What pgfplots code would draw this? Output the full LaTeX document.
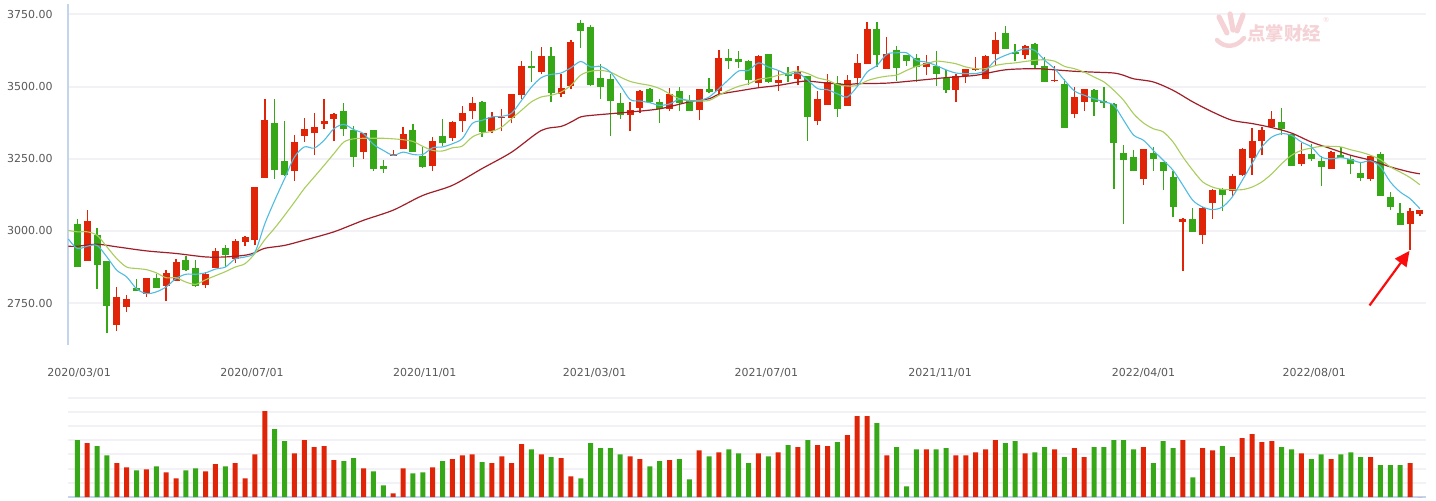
\documentclass[border=0pt]{standalone}
\usepackage{pgfplots}
\pgfplotsset{compat=1.18}
\usepackage{pgfplotstable}
\usepackage{fontspec}
\setmainfont{DejaVu Sans}
\newfontfamily\cjk{Noto Sans CJK SC}
\usetikzlibrary{arrows.meta}
\definecolor{cred}{RGB}{223,36,8}
\definecolor{cgreen}{RGB}{54,168,24}
\definecolor{mablue}{RGB}{80,188,224}
\definecolor{magreen}{RGB}{168,205,92}
\definecolor{madred}{RGB}{160,30,40}
\definecolor{gridgray}{RGB}{242,242,246}
\definecolor{axisblue}{RGB}{196,212,236}
\definecolor{txtgray}{RGB}{88,88,88}
\definecolor{wmpink}{RGB}{245,210,214}
\definecolor{arrowred}{RGB}{250,12,12}

\pgfplotstableread{
i o h l c v
1 2896 3072 2896 3033 3.79
4 2675 2806 2653 2770 2.38
5 2737 2778 2718 2763 2.09
7 2783 2836 2772 2836 1.95
9 2810 2864 2757 2856 1.74
10 2827 2902 2827 2894 1.32
13 2814 2858 2803 2850 1.81
14 2871 2940 2871 2930 2.31
16 2903 2971 2890 2964 2.38
17 2963 2982 2948 2978 1.32
18 2969 3151 2952 3151 3.01
19 3183 3456 3183 3383 6.05
22 3208 3331 3173 3307 3.08
23 3329 3390 3308 3352 4.00
24 3339 3407 3262 3359 3.51
25 3369 3456 3353 3380 3.58
26 3388 3407 3310 3404 2.59
29 3273 3338 3249 3338 2.02
32 3261 3279 3261 3268 0.26
33 3284 3359 3284 3335 2.02
36 3225 3324 3208 3310 2.09
38 3322 3380 3310 3376 2.66
39 3381 3432 3343 3407 2.94
40 3415 3463 3387 3442 3.01
42 3346 3411 3339 3393 2.38
43 3391 3421 3346 3395 2.87
44 3391 3473 3373 3473 2.38
45 3470 3587 3456 3570 3.72
47 3549 3636 3542 3605 3.01
49 3474 3542 3463 3494 2.73
50 3501 3660 3490 3653 1.46
56 3402 3445 3346 3418 2.87
57 3426 3487 3408 3483 2.66
60 3422 3494 3415 3473 2.59
63 3419 3490 3384 3490 3.29
65 3483 3625 3473 3598 3.15
69 3513 3611 3498 3605 3.08
71 3512 3556 3485 3522 3.15
73 3526 3573 3505 3550 3.51
75 3381 3483 3367 3456 3.65
76 3436 3542 3436 3515 3.58
78 3433 3539 3433 3522 4.35
79 3530 3612 3498 3580 5.69
80 3578 3722 3578 3701 5.69
82 3561 3670 3561 3612 2.94
86 3568 3608 3540 3580 3.36
89 3488 3542 3447 3538 2.94
90 3538 3560 3512 3560 2.94
91 3556 3601 3554 3561 3.15
92 3526 3608 3526 3605 3.36
93 3613 3688 3571 3663 4.00
96 3609 3643 3595 3639 3.08
99 3519 3573 3516 3522 3.36
101 3405 3497 3391 3463 3.44
102 3447 3490 3415 3490 2.80
108 3181 3283 3160 3283 3.51
112 3032 3046 2862 3043 4.00
114 2986 3084 2955 3081 3.44
115 3097 3145 3042 3143 3.29
117 3140 3196 3122 3192 2.80
118 3195 3286 3192 3283 4.14
119 3254 3355 3195 3313 4.42
120 3313 3359 3262 3348 3.86
121 3359 3414 3355 3387 3.93
124 3232 3305 3225 3267 3.08
127 3215 3277 3215 3273 2.66
131 3180 3263 3173 3260 2.80
135 3024 3081 2934 3070 2.38
136 3057 3074 3053 3074 0
}\redtab

\pgfplotstableread{
i o h l c v
0 3025 3040 2875 2875 4.00
2 2985 3009 2799 2881 3.58
3 2895 2895 2647 2740 2.94
6 2804 2834 2791 2791 1.88
8 2838 2850 2803 2803 2.16
11 2898 2912 2862 2865 1.88
12 2871 2898 2806 2810 2.02
15 2940 2953 2875 2916 2.16
20 3375 3456 3180 3211 4.78
21 3241 3380 3192 3195 3.93
27 3414 3442 3329 3353 2.52
28 3348 3365 3222 3256 2.73
30 3348 3348 3208 3215 1.81
31 3224 3245 3201 3216 0.82
34 3348 3369 3273 3273 1.67
35 3258 3291 3217 3222 1.74
37 3328 3387 3294 3305 2.52
41 3445 3449 3325 3343 2.45
46 3570 3622 3516 3563 3.36
48 3605 3636 3445 3477 2.80
51 3719 3729 3633 3692 1.32
52 3705 3715 3502 3505 3.79
53 3528 3577 3457 3498 3.44
54 3525 3542 3329 3450 3.44
55 3442 3477 3388 3402 3.01
58 3490 3494 3442 3445 2.16
59 3445 3456 3374 3422 2.52
61 3483 3497 3415 3442 2.66
62 3452 3470 3415 3415 1.25
64 3490 3528 3477 3480 2.87
66 3598 3629 3561 3588 3.36
67 3594 3622 3563 3585 3.08
68 3587 3591 3504 3522 2.38
70 3612 3612 3512 3516 2.87
72 3543 3567 3516 3535 3.65
74 3535 3535 3312 3395 4.00
77 3511 3535 3395 3422 3.86
81 3698 3722 3568 3609 5.20
83 3625 3639 3519 3564 3.51
84 3608 3608 3571 3588 0.75
85 3598 3612 3516 3568 3.36
87 3573 3622 3502 3543 3.36
88 3530 3556 3478 3488 3.44
94 3684 3709 3630 3630 3.79
95 3620 3647 3588 3613 3.93
97 3646 3650 3561 3575 3.15
98 3570 3601 3516 3516 3.51
100 3508 3525 3357 3357 2.80
103 3487 3490 3398 3447 3.51
104 3449 3497 3426 3443 3.51
105 3438 3442 3145 3305 4.00
106 3269 3297 3024 3246 4.00
107 3255 3279 3208 3208 3.36
109 3269 3290 3208 3249 2.38
110 3238 3238 3142 3208 3.93
111 3186 3207 3048 3083 3.44
113 3043 3081 2997 2997 1.39
116 3147 3150 3068 3126 3.58
122 3378 3425 3332 3353 3.51
123 3337 3337 3225 3225 3.36
125 3267 3300 3242 3249 2.66
126 3242 3260 3156 3222 3.01
128 3263 3291 3253 3253 3.01
129 3249 3260 3197 3232 3.15
130 3202 3239 3173 3183 2.80
132 3267 3273 3121 3121 2.24
133 3118 3136 3073 3084 2.24
134 3063 3098 3021 3021 2.24
}\greentab

\begin{document}
\begin{tikzpicture}
\path[use as bounding box] (0,0) rectangle (718pt,250pt);
% price panel
\begin{axis}[
  at={(34pt,77.5pt)}, anchor=south west,
  scale only axis, width=679pt, height=170.5pt,
  xmin=-0.94, xmax=136.62, ymin=2605, ymax=3786,
  axis x line*=bottom, axis y line*=left,
  x axis line style={draw=none},
  y axis line style={draw=axisblue, line width=0.8pt, -},
  major tick length=0pt,
  ymajorgrids, grid style={draw=gridgray, line width=1pt},
  ytick={2750,3000,3250,3500,3750},
  yticklabels={2750.00,3000.00,3250.00,3500.00,3750.00},
  xtick={0.19,17.7,35.2,52.4,69.8,87.4,108.0,125.3},
  xticklabels={2020/03/01,2020/07/01,2020/11/01,2021/03/01,2021/07/01,2021/11/01,2022/04/01,2022/08/01},
  ticklabel style={font=\fontsize{5.5}{6.5}\selectfont, text=txtgray, inner sep=0pt},
  yticklabel style={anchor=east, xshift=-7.5pt},
  xticklabel style={anchor=center, yshift=-14pt},
  clip=true,
]
% wicks
\addplot[draw=none, mark=none, forget plot, error bars/.cd, y dir=plus, y explicit, error mark=none,
  error bar style={draw=cred, line width=0.65pt}]
  table[x=i, y=l, y error plus expr={\thisrow{h}-\thisrow{l}}] {\redtab};
\addplot[draw=none, mark=none, forget plot, error bars/.cd, y dir=plus, y explicit, error mark=none,
  error bar style={draw=cgreen, line width=0.65pt}]
  table[x=i, y=l, y error plus expr={\thisrow{h}-\thisrow{l}}] {\greentab};
% bodies
\addplot[draw=none, mark=none, forget plot, error bars/.cd, y dir=plus, y explicit, error mark=none,
  error bar style={draw=cred, line width=3.5pt}]
  table[x=i, y expr={min(\thisrow{o},\thisrow{c})}, y error plus expr={max(abs(\thisrow{c}-\thisrow{o}),5)}] {\redtab};
\addplot[draw=none, mark=none, forget plot, error bars/.cd, y dir=plus, y explicit, error mark=none,
  error bar style={draw=cgreen, line width=3.5pt}]
  table[x=i, y expr={min(\thisrow{o},\thisrow{c})}, y error plus expr={max(abs(\thisrow{c}-\thisrow{o}),5)}] {\greentab};
% moving averages
\addplot[madred, line width=0.6pt, smooth, mark=none] coordinates {
(-0.9,2947)(0,2947)(2,2954)(4,2945)(7,2931)(10,2922)(13,2910)(15,2910)(17,2916)(18,2925)(19,2940)(21,2950)(23,2968)(26,2997)(29,3037)(32,3072)(35,3123)(38,3158)(41,3216)(44,3273)(47,3348)(49,3362)(50,3377)(51,3395)(52,3400)(54,3406)(56,3412)(59,3423)(62,3447)(64,3458)(65,3473)(67,3485)(69,3496)(71,3504)(73,3516)(74,3519)(76,3512)(78,3507)(79,3510)(82,3512)(85,3521)(88,3531)(91,3539)(94,3558)(97,3562)(99,3558)(101,3553)(103,3550)(105,3547)(106,3539)(107,3527)(109,3516)(111,3487)(113,3447)(115,3412)(117,3383)(119,3372)(121,3358)(123,3339)(125,3308)(127,3285)(129,3262)(131,3245)(133,3222)(135,3204)(136,3198)
};
\addplot[magreen, line width=0.55pt, smooth, mark=none] coordinates {
(-0.9,3002)(0,2997)(1,2997)(2,2985)(3,2945)(4,2904)(5,2875)(6,2870)(7,2866)(8,2855)(9,2838)(10,2838)(11,2823)(12,2815)(13,2831)(14,2845)(15,2859)(16,2875)(17,2887)(18,2922)(19,2970)(20,3010)(21,3054)(22,3100)(23,3147)(24,3187)(25,3227)(26,3268)(27,3308)(28,3319)(29,3321)(30,3321)(31,3321)(32,3319)(33,3316)(34,3310)(35,3293)(36,3279)(37,3277)(38,3288)(39,3294)(40,3325)(41,3339)(42,3345)(43,3360)(44,3389)(45,3418)(46,3447)(47,3464)(48,3470)(49,3481)(50,3504)(51,3540)(52,3553)(53,3556)(54,3550)(55,3533)(56,3518)(57,3510)(58,3504)(59,3493)(60,3475)(61,3458)(62,3450)(63,3450)(64,3452)(65,3470)(66,3487)(67,3501)(68,3510)(69,3525)(70,3530)(71,3539)(72,3547)(73,3554)(74,3545)(75,3530)(76,3522)(77,3507)(78,3502)(79,3504)(80,3520)(81,3530)(82,3536)(83,3540)(84,3556)(85,3570)(86,3579)(87,3588)(88,3585)(89,3579)(90,3568)(91,3562)(92,3562)(93,3573)(94,3579)(95,3582)(96,3587)(97,3591)(98,3593)(99,3588)(100,3570)(101,3562)(102,3550)(103,3533)(104,3516)(105,3487)(106,3452)(107,3406)(108,3374)(109,3354)(110,3343)(111,3308)(112,3256)(113,3210)(114,3170)(115,3152)(116,3144)(117,3143)(118,3143)(119,3152)(120,3170)(121,3198)(122,3233)(123,3262)(124,3279)(125,3287)(126,3293)(127,3293)(128,3291)(129,3281)(130,3273)(131,3262)(132,3247)(133,3222)(134,3204)(135,3185)(136,3160)
};
\addplot[mablue, line width=0.55pt, smooth, mark=none] coordinates {
(-0.9,2972)(0,2939)(1,2947)(2,2950)(3,2910)(4,2864)(5,2841)(6,2800)(7,2783)(8,2789)(9,2806)(10,2835)(11,2850)(12,2850)(13,2855)(14,2868)(15,2875)(16,2903)(17,2910)(18,2927)(19,3025)(20,3106)(21,3181)(22,3256)(23,3291)(24,3287)(25,3314)(26,3354)(27,3369)(28,3351)(29,3337)(30,3300)(31,3279)(32,3262)(33,3273)(34,3265)(35,3265)(36,3288)(37,3291)(38,3302)(39,3320)(40,3372)(41,3383)(42,3395)(43,3397)(44,3408)(45,3452)(46,3498)(47,3531)(48,3542)(49,3547)(50,3565)(51,3587)(52,3568)(53,3570)(54,3550)(55,3504)(56,3455)(57,3450)(58,3444)(59,3435)(60,3440)(61,3456)(62,3452)(63,3452)(64,3464)(65,3493)(66,3525)(67,3554)(68,3556)(69,3582)(70,3568)(71,3556)(72,3542)(73,3547)(74,3522)(75,3493)(76,3489)(77,3475)(78,3464)(79,3500)(80,3550)(81,3573)(82,3612)(83,3617)(84,3617)(85,3591)(86,3585)(87,3573)(88,3558)(89,3547)(90,3545)(91,3545)(92,3556)(93,3591)(94,3608)(95,3620)(96,3631)(97,3625)(98,3591)(99,3562)(100,3522)(101,3485)(102,3470)(103,3458)(104,3447)(105,3435)(106,3383)(107,3332)(108,3314)(109,3279)(110,3245)(111,3210)(112,3158)(113,3106)(114,3083)(115,3074)(116,3083)(117,3118)(118,3175)(119,3233)(120,3291)(121,3325)(122,3337)(123,3331)(124,3308)(125,3291)(126,3256)(127,3250)(128,3254)(129,3247)(130,3237)(131,3243)(132,3222)(133,3170)(134,3135)(135,3112)(136,3077)
};
% annotation arrow
\draw[arrowred, line width=1.1pt, -{Triangle[length=7.5pt,width=7pt]}] (axis cs:130.9,2742) -- (axis cs:134.95,2931);
\end{axis}
% volume panel
\begin{axis}[
  at={(34pt,1.5pt)}, anchor=south west,
  scale only axis, width=679pt, height=49.7pt,
  xmin=-0.94, xmax=136.62, ymin=0, ymax=7,
  axis x line*=bottom, axis y line*=left,
  x axis line style={draw=axisblue, line width=0.8pt, -},
  y axis line style={draw=none},
  major tick length=0pt,
  ymajorgrids, grid style={draw=gridgray, line width=1pt},
  ytick={0,1,2,3,4,5,6,7}, yticklabels={},
  xtick=\empty,
]
\addplot[ybar, bar width=2.5pt, bar shift=0pt, fill=cred, draw=none] table[x=i, y=v] {\redtab};
\addplot[ybar, bar width=2.5pt, bar shift=0pt, fill=cgreen, draw=none] table[x=i, y=v] {\greentab};
\end{axis}
% watermark
\begin{scope}[wmpink, line cap=round]
\draw[line width=2.6pt] (609.5pt,241.5pt) -- (613.5pt,233.5pt);
\draw[line width=2.6pt] (615pt,243pt) -- (616.5pt,235pt);
\draw[line width=2.6pt] (621.5pt,242.5pt) -- (618.5pt,234.5pt);
\draw[line width=2.2pt] (608.5pt,230pt) .. controls (612pt,226pt) and (618pt,226pt) .. (622pt,231pt);
\end{scope}
\node[text=wmpink, font=\cjk\bfseries\fontsize{9.2}{10}\selectfont, inner sep=0pt] at (642pt,233.5pt) {点掌财经};
\node[text=wmpink, font=\fontsize{3.5}{4}\selectfont, inner sep=0pt] at (663pt,240pt) {®};
\end{tikzpicture}
\end{document}
